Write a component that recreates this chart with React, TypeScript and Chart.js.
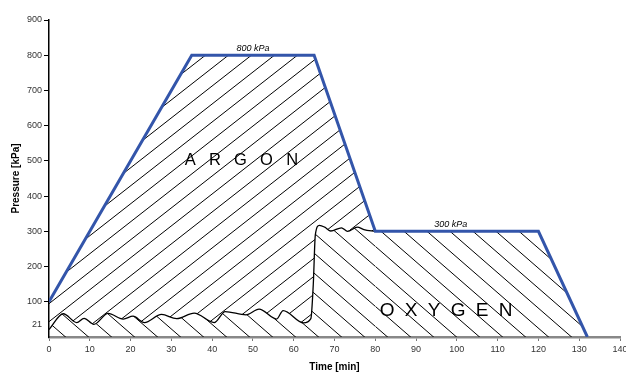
import React, { useEffect, useRef } from 'react';
import { Chart, registerables } from 'chart.js';

Chart.register(...registerables);

// Pressure profile (blue line): time [min] / pressure [kPa]
const profileTime = [0, 35, 65, 80, 120, 132];
const profilePressure = [100, 800, 800, 300, 300, 0];

// Oxygen partial pressure curve (black wavy line)
const oxygenTime = [0, 3.5, 6.8, 8.6, 11, 14.5, 18.2, 20.6, 23.4, 27.6, 31.3, 35.6, 40.5, 43.2, 48.3, 51.5, 55.8, 57.4, 62.4, 64.2, 64.8, 65.3, 66.3, 67.6, 69.1, 71.7, 73.2, 75.6, 77.2, 80];
const oxygenPressure = [21, 66, 41, 53, 36, 67, 51, 59, 41, 64, 52, 68, 41, 72, 63, 79, 51, 75, 40, 52, 150, 290, 317, 312, 301, 310, 300, 312, 305, 300];

// Axis ticks
const yTickValues = [21, 100, 200, 300, 400, 500, 600, 700, 800, 900];
const xMin = 0;
const xMax = 140;
const xStep = 10;
const yMin = 0;
const yMax = 900;

// Texts
const xTitle = 'Time [min]';
const yTitle = 'Pressure [kPa]';
const argonText = 'A R G O N';
const oxygenText = 'O X Y G E N';
const plateauTexts = ['800 kPa', '300 kPa'];
const plateauTimes = [50, 98.5];
const plateauPressures = [800, 300];

const FONT = "'Liberation Sans', Arial, sans-serif";
const BLUE = '#3355AA';

function makeHatch(ctx: CanvasRenderingContext2D, w: number, h: number, dir: string) {
  const c = document.createElement('canvas');
  c.width = w;
  c.height = h;
  const g = c.getContext('2d')!;
  g.strokeStyle = '#000';
  g.lineWidth = 1;
  for (let k = -1; k <= 1; k++) {
    g.beginPath();
    if (dir === '/') {
      g.moveTo(-1, h + k * h + h / w);
      g.lineTo(w + 1, k * h - h / w);
    } else {
      g.moveTo(-1, k * h - h / w);
      g.lineTo(w + 1, h + k * h + h / w);
    }
    g.stroke();
  }
  return ctx.createPattern(c, 'repeat')!;
}

const labelPlugin = {
  id: 'labels',
  afterDatasetsDraw(chart: any) {
    const { ctx, scales } = chart;
    const xs = scales.x;
    const ys = scales.y;
    ctx.save();
    ctx.fillStyle = '#000';
    ctx.textBaseline = 'middle';
    // plateau labels
    ctx.font = `italic 9px ${FONT}`;
    ctx.textAlign = 'center';
    plateauTexts.forEach((t, i) => {
      ctx.fillText(t, xs.getPixelForValue(plateauTimes[i]), ys.getPixelForValue(plateauPressures[i]) - 7);
    });
    // gas names
    ctx.textAlign = 'left';
    ctx.font = `16.5px ${FONT}`;
    (ctx as any).letterSpacing = '4.3px';
    ctx.fillText(argonText, xs.getPixelForValue(33.3), ys.getPixelForValue(502));
    ctx.font = `19px ${FONT}`;
    (ctx as any).letterSpacing = '2.5px';
    ctx.fillText(oxygenText, xs.getPixelForValue(81.1), ys.getPixelForValue(74));
    (ctx as any).letterSpacing = '0px';
    ctx.restore();
  },
};

export default function App() {
  const canvasRef = useRef<HTMLCanvasElement | null>(null);

  useEffect(() => {
    document.body.style.margin = '0';
    const canvas = canvasRef.current!;
    const ctx = canvas.getContext('2d')!;
    const argonPattern = makeHatch(ctx, 23, 18, '/');
    const oxygenPattern = makeHatch(ctx, 23, 20, '\\');

    const profile = profileTime.map((t, i) => ({ x: t, y: profilePressure[i] }));
    const oxygen = oxygenTime.map((t, i) => ({ x: t, y: oxygenPressure[i] }));
    const tail = profile.slice(3);

    const chart = new Chart(canvas, {
      type: 'line',
      data: {
        datasets: [
          {
            label: 'Pressure',
            data: profile,
            borderColor: BLUE,
            borderWidth: 3,
            pointRadius: 0,
            tension: 0,
            fill: 1,
            backgroundColor: argonPattern,
          },
          {
            label: 'Oxygen',
            data: oxygen,
            borderColor: '#000',
            borderWidth: 1.3,
            pointRadius: 0,
            cubicInterpolationMode: 'monotone',
            fill: 'origin',
            backgroundColor: oxygenPattern,
          },
          {
            label: 'OxygenTail',
            data: tail,
            borderColor: 'rgba(0,0,0,0)',
            borderWidth: 0,
            pointRadius: 0,
            tension: 0,
            fill: 'origin',
            backgroundColor: oxygenPattern,
          },
        ],
      },
      options: {
        animation: false,
        responsive: false,
        events: [],
        layout: { padding: { top: 20, right: 6, left: 0, bottom: 0 } },
        plugins: {
          legend: { display: false },
          tooltip: { enabled: false },
          filler: { drawTime: 'beforeDatasetsDraw' },
        } as any,
        scales: {
          x: {
            type: 'linear',
            min: xMin,
            max: xMax,
            z: 1,
            afterFit: (s: any) => { s.height = 37; s.paddingRight = 0; s.paddingLeft = 0; },
            ticks: { stepSize: xStep, color: '#333', font: { family: FONT, size: 9 }, padding: 3, maxRotation: 0 },
            grid: { drawOnChartArea: false, drawTicks: true, tickLength: 4, tickColor: '#777', tickWidth: 1 },
            border: { color: '#888', width: 2.5 },
            title: { display: true, text: xTitle, color: '#000', font: { family: FONT, size: 10, weight: 'bold' }, padding: { top: 0, bottom: 1 } },
          },
          y: {
            type: 'linear',
            min: yMin,
            max: yMax,
            afterFit: (s: any) => { s.width = 49; s.paddingTop = 0; s.paddingBottom = 0; },
            afterBuildTicks: (s: any) => { s.ticks = yTickValues.map((v) => ({ value: v })); },
            ticks: {
              color: '#333',
              font: { family: FONT, size: 9 },
              padding: 2,
              callback: (v: any) => (v === 21 ? ['21', ''] : String(v)),
            },
            grid: {
              drawOnChartArea: false,
              drawTicks: true,
              tickLength: 5,
              tickColor: (c: any) => (c.tick && c.tick.value === 21 ? 'rgba(0,0,0,0)' : '#000'),
            },
            border: { color: '#000', width: 1.5 },
            title: { display: true, text: yTitle, color: '#000', font: { family: FONT, size: 10, weight: 'bold' }, padding: { top: 10, bottom: 0 } },
          },
        },
      } as any,
      plugins: [labelPlugin],
    });
    return () => chart.destroy();
  }, []);

  return (
    <div style={{ width: 626, height: 374 }}>
      <canvas ref={canvasRef} width={626} height={374} style={{ display: 'block', width: 626, height: 374 }} />
    </div>
  );
}
